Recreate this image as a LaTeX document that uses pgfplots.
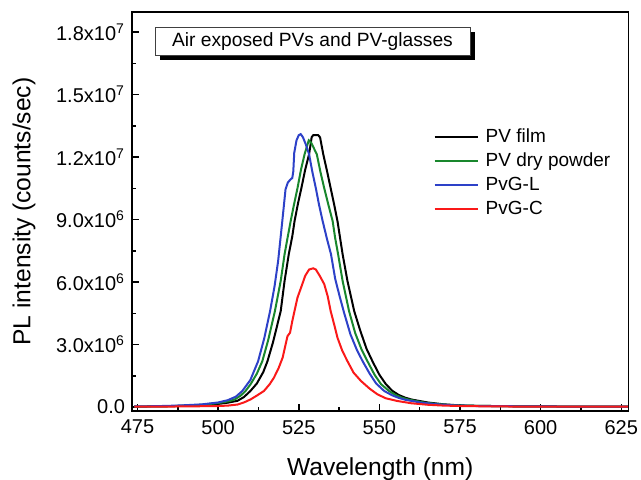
\documentclass[border=0pt]{standalone}
\usepackage{fontspec}
\setmainfont{Liberation Sans}
\usepackage{pgfplots}
\pgfplotsset{compat=1.18}
\usetikzlibrary{shadows}

\definecolor{pvgreen}{RGB}{25,135,45}
\definecolor{pvblue}{RGB}{45,65,200}
\definecolor{pvred}{RGB}{250,25,25}

\begin{document}
\begin{tikzpicture}
\begin{axis}[
    at={(0,0)}, anchor=south west,
    scale only axis, width=248.2pt, height=199.5pt,
    xmin=473.3, xmax=627.2,
    ymin=-0.19, ymax=18.96,
    xtick={475,500,...,625},
    xticklabels={475,500,525,550,575,600,625},
    ytick={0,3,...,18},
    yticklabels={0.0,3.0x10\textsuperscript{6},6.0x10\textsuperscript{6},9.0x10\textsuperscript{6},1.2x10\textsuperscript{7},1.5x10\textsuperscript{7},1.8x10\textsuperscript{7}},
    minor x tick num=1, minor y tick num=1,
    tick align=inside, tick pos=left,
    major tick length=3.5pt, minor tick length=2pt,
    axis line style={line width=0.8pt},
    every tick/.style={black, line width=0.75pt},
    tick label style={font=\fontsize{10}{12}\selectfont},
    xticklabel style={yshift=-1pt},
    label style={font=\fontsize{12.3}{14}\selectfont},
    xlabel={Wavelength (nm)},
    ylabel={PL intensity (counts/sec)},
    xlabel style={at={(axis description cs:0.5,-0.1454)}, anchor=center},
    ylabel style={at={(axis description cs:-0.2176,0.5)}, anchor=center},
    legend style={draw=none, fill=none, at={(0.607,0.71)}, anchor=north west,
        inner sep=0pt, row sep=3pt, column sep=3.3pt,
        font=\fontsize{9.5}{11}\selectfont,
        nodes={inner sep=0pt, text height=7pt, text depth=2pt}},
    legend cell align=left,
    legend image code/.code={\draw[#1] (0pt,0pt) -- (21.7pt,0pt);},
    every axis plot/.append style={line width=1pt},
]

% PV film
\addplot[black] coordinates {
(474,0.02)(480,0.03)(485,0.04)(490,0.06)(495,0.09)(500,0.15)(503,0.21)(506,0.30)
(508,0.48)(510,0.77)(512,1.13)(514,1.68)(515.3,2.2)(517,3.1)(519.4,4.6)(520.6,6.05)
(521.9,7.33)(523,8.2)(523.7,8.93)(524.8,9.8)(525.8,10.5)(527,11.4)(528.2,12.13)
(529,12.95)(529.5,13.05)(531,13.05)(531.6,12.95)(532.6,12.13)(533.8,11.3)(534.9,10.5)
(536,9.7)(537,8.93)(538.6,7.33)(540.1,6.05)(542.2,4.6)(544,3.7)(546,2.8)(548,2.15)
(550,1.55)(552,1.1)(554,0.78)(556,0.58)(558,0.45)(560,0.36)(565,0.22)(570,0.13)
(575,0.08)(580,0.06)(590,0.04)(600,0.03)(615,0.02)(627,0.02)
};
\addlegendentry{PV film}

% PV dry powder
\addplot[pvgreen] coordinates {
(474,0.02)(480,0.03)(485,0.04)(490,0.07)(495,0.11)(500,0.19)(503,0.27)(505,0.35)
(507,0.55)(508.5,0.77)(510,1.08)(512,1.6)(513.7,2.2)(515.5,3.2)(517.6,4.6)(519.4,6.05)
(520.6,7.33)(521.5,8.1)(522.5,8.93)(523.5,9.7)(524.6,10.5)(525.7,11.4)(526.8,12.13)
(528.1,12.8)(528.8,12.7)(529.6,12.45)(530.6,12.13)(531.7,11.3)(532.9,10.5)(534.2,9.7)
(535.5,8.93)(536.3,8.1)(537.2,7.33)(538.6,6.05)(540.6,4.6)(542.5,3.55)(544.5,2.75)
(546.3,2.2)(548.5,1.55)(550.5,1.1)(553,0.77)(555,0.58)(557,0.45)(559,0.36)(564,0.21)
(569,0.13)(574,0.08)(580,0.06)(590,0.04)(600,0.03)(615,0.02)(627,0.02)
};
\addlegendentry{PV dry powder}

% PvG-L
\addplot[pvblue] coordinates {
(474,0.03)(480,0.04)(485,0.06)(490,0.09)(495,0.13)(500,0.22)(503,0.33)(505.5,0.5)
(507.5,0.77)(510,1.3)(512.4,2.2)(514.3,3.3)(516.1,4.6)(517.5,5.8)(518.6,7.0)(519.9,8.93)
(520.9,10.45)(521.6,10.77)(522.3,10.9)(523,11.0)(523.3,11.3)(523.6,12.2)(524.3,12.8)
(525,13.05)(525.6,13.1)(526.3,12.95)(527.2,12.6)(528.2,12.13)(529.2,11.3)(530.3,10.5)
(531.3,9.7)(532.4,8.93)(533.7,8.1)(535,7.33)(536.3,6.15)(537.7,5.3)(539.1,4.5)
(541,3.5)(543,2.75)(544.8,2.2)(547,1.6)(549,1.13)(551.5,0.77)(554,0.56)(556,0.44)
(558,0.35)(563,0.21)(568,0.13)(573,0.08)(580,0.05)(590,0.04)(600,0.03)(615,0.02)(627,0.02)
};
\addlegendentry{PvG-L}

% PvG-C
\addplot[pvred] coordinates {
(474,0.02)(480,0.02)(490,0.03)(495,0.04)(500,0.05)(503,0.07)(506,0.12)(508,0.22)
(510.1,0.37)(512,0.55)(514.2,0.77)(516,1.1)(517.3,1.41)(518.7,1.85)(520,2.37)(521.5,3.4)
(522.3,3.57)(523,4.13)(524.6,5.25)(526.1,5.9)(527,6.3)(528.2,6.6)(529.5,6.66)(530.3,6.6)
(531.5,6.3)(532.9,5.9)(534,5.3)(534.9,4.6)(536,3.95)(537,3.33)(538.5,2.7)(540.1,2.2)
(542,1.65)(544.3,1.25)(547,0.88)(549.4,0.61)(552,0.42)(555.6,0.29)(560,0.18)(565,0.11)
(570,0.07)(575,0.05)(585,0.03)(600,0.02)(627,0.02)
};
\addlegendentry{PvG-C}

\end{axis}

\node[draw=black!75, line width=0.5pt, fill=white, minimum width=157.5pt, minimum height=13.85pt,
      inner sep=0pt, font=\fontsize{9.6}{11}\selectfont,
      drop shadow={shadow xshift=2.3pt, shadow yshift=-2.3pt, fill=black, opacity=1}]
  at (90.25pt,184.9pt) {Air exposed PVs and PV-glasses};

\pgfresetboundingbox
\path (-66pt,-34pt) rectangle (254.5pt,205.5pt);
\end{tikzpicture}
\end{document}
